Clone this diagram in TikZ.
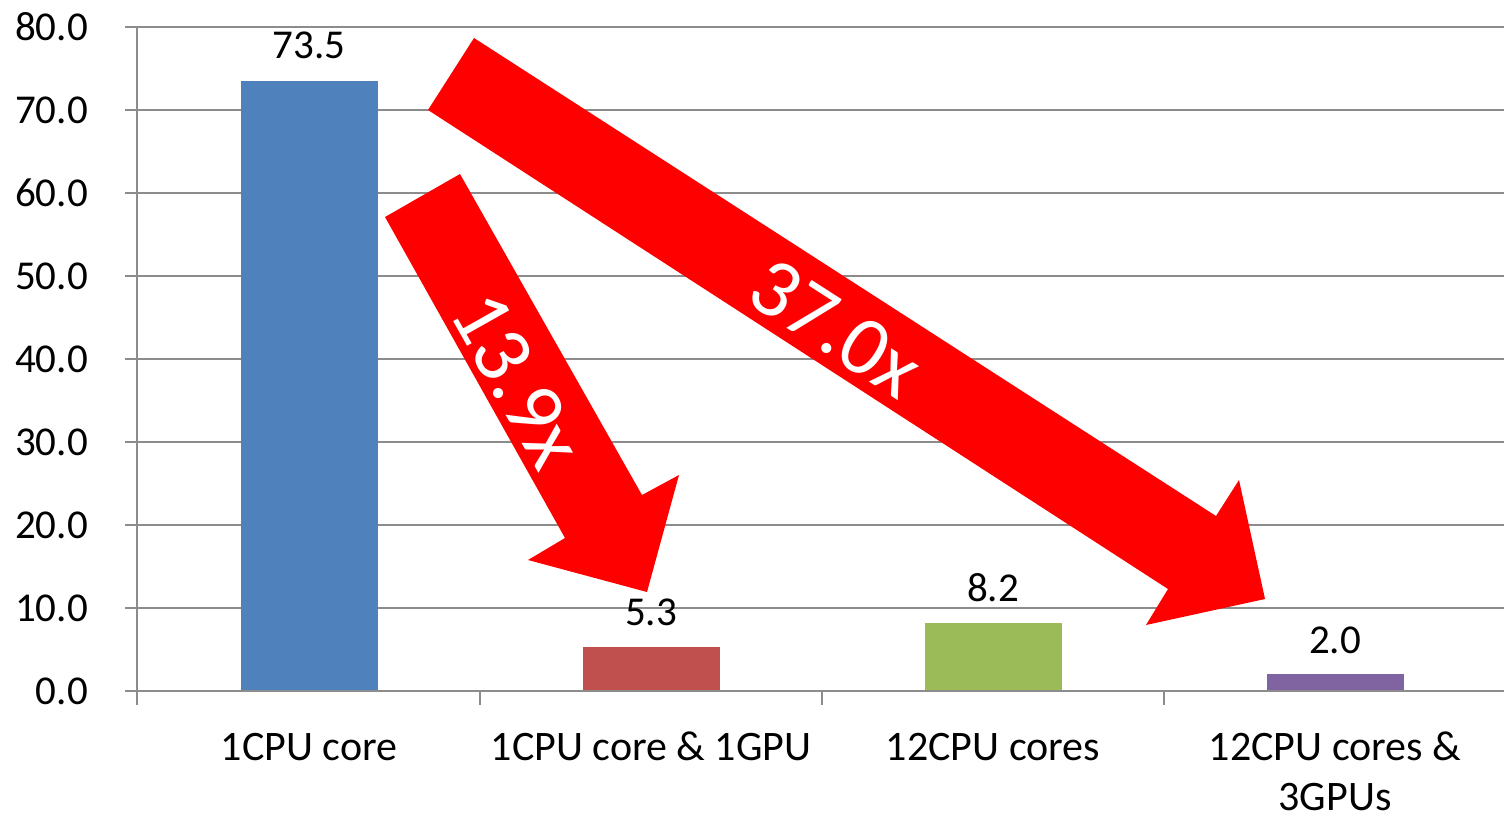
\documentclass[tikz,border=0pt]{standalone}
\usepackage{fontspec}
\setmainfont{Carlito}
\definecolor{gridgray}{HTML}{8C8C8C}
\definecolor{barblue}{HTML}{4F81BD}
\definecolor{barred}{HTML}{C0504D}
\definecolor{bargreen}{HTML}{9BBB59}
\definecolor{barpurple}{HTML}{8064A2}
\definecolor{arrowred}{HTML}{FF0000}
\tikzset{
  gridline/.style={draw=gridgray, line width=2pt},
  axislabel/.style={font=\fontsize{41}{49}\selectfont, inner sep=0pt},
  catlabel/.style={font=\fontsize{42}{52}\selectfont, inner sep=0pt, align=center, anchor=base},
  vallabel/.style={font=\fontsize{41}{49}\selectfont, inner sep=0pt},
  bigarrow/.style={fill=arrowred, draw=none},
  arrowtext/.style={font=\fontsize{84}{90}\selectfont, text=white, inner sep=0pt},
}
\begin{document}
\begin{tikzpicture}[x=1pt, y=-1pt]
\useasboundingbox (0,0) rectangle (1504,814);

% horizontal grid lines and value axis labels
\foreach \v/\t in {0/0.0,1/10.0,2/20.0,3/30.0,4/40.0,5/50.0,6/60.0,7/70.0,8/80.0}{
  \draw[gridline] (125,{691-83*\v}) -- (1504,{691-83*\v});
  \node[axislabel, anchor=east] at (88,{691-83*\v}) {\t};
}
% vertical axis
\draw[gridline] (137,27) -- (137,705);
% category ticks
\foreach \x in {480,822,1164}{
  \draw[gridline] (\x,691) -- (\x,705);
}

% bars
\fill[barblue]   (241,691) rectangle (378,80.9);  % 73.5
\fill[barred]    (583,691) rectangle (720,647.0); % 5.3
\fill[bargreen]  (925,691) rectangle (1062,622.9);% 8.2
\fill[barpurple] (1267,691) rectangle (1404,674.4);% 2.0
% redraw the base line over the bars
\draw[gridline] (125,691) -- (1504,691);

% bar values
\node[vallabel] (v1) at (309,45) {73.5};
\node[vallabel] (v2) at (651,612) {5.3};
\node[vallabel] (v3) at (993,588) {8.2};
\node[vallabel] (v4) at (1335,640) {2.0};

% category labels
\node[catlabel] (c1) at (309,760) {1CPU core};
\node[catlabel] (c2) at (651,760) {1CPU core \& 1GPU};
\node[catlabel] (c3) at (993,760) {12CPU cores};
\node[catlabel] (c4) at (1335,760) {12CPU cores \&};
\node[catlabel] (c5) at (1335,810) {3GPUs};

% speed-up arrows
\fill[bigarrow] (385,217) -- (460,174) -- (642,495) -- (679,475) -- (647,592)
  -- (528,560) -- (565,538) -- cycle;
\fill[bigarrow] (474,38) -- (1216,516) -- (1239,480) -- (1265,599)
  -- (1146,625) -- (1168,589) -- (428,110) -- cycle;

\node[arrowtext, rotate=-60.6] (s1) at (517,380) {13.9x};
\node[arrowtext, rotate=-32.8] (s2) at (836,328) {37.0x};
\end{tikzpicture}
\end{document}
